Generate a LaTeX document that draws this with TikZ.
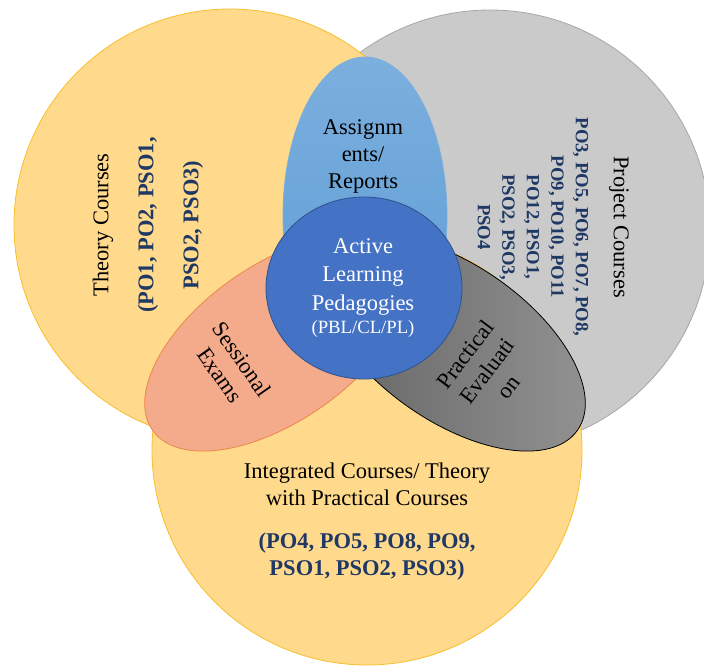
\documentclass[tikz,border=0pt]{standalone}
\usepackage{fontspec}
\setmainfont{Liberation Serif}
\usepackage{xcolor}
\usepackage{tikz}
\usetikzlibrary{shapes.geometric}
\definecolor{gold}{HTML}{FFD98C}
\definecolor{goldline}{HTML}{F8BF2C}
\definecolor{greyfill}{HTML}{CACACA}
\definecolor{greyline}{HTML}{A6A6A6}
\definecolor{skyblue}{HTML}{5B9BD5}
\definecolor{royal}{HTML}{4472C4}
\definecolor{royalline}{HTML}{2F528F}
\definecolor{salmon}{HTML}{F4AB8C}
\definecolor{salmonline}{HTML}{EE8649}
\definecolor{navy}{HTML}{1F3864}
\newcommand{\pocode}[1]{\textbf{\textcolor{navy}{#1}}}
\tikzset{
  setcirc/.style={circle,draw=goldline,fill=gold,line width=0.8pt,inner sep=0pt},
  petal/.style={ellipse,inner sep=0pt,line width=0.8pt},
  lbl/.style={align=center,inner sep=0pt,font=\fontsize{22.5}{27}\selectfont},
}
\begin{document}
\begin{tikzpicture}[x=1pt,y=-1pt]
  \useasboundingbox (0,0) rectangle (704,669);
  \node[setcirc,draw=greyline,fill=greyfill,minimum size=440pt] (project) at (490,230) {};
  \node[setcirc,minimum size=432pt] (theory) at (230,225) {};
  \node[setcirc,minimum size=430pt] (integ) at (367,450) {};
  \node[petal,draw=skyblue!80!white,top color=skyblue!80!white,bottom color=skyblue,
    minimum width=164pt,minimum height=318pt] (assign) at (365,216) {};
  \node[petal,draw=salmonline,fill=salmon,minimum width=304pt,minimum height=156pt,rotate=35] (sessional) at (277,343) {};
  \node[petal,draw=black,left color=black!62,right color=black!42,
    minimum width=304pt,minimum height=156pt,rotate=-35] (practical) at (453,343) {};
  \node[petal,draw=royalline,fill=royal,minimum width=196pt,minimum height=182pt] (alp) at (364,288) {};

  \node[lbl,rotate=90,font=\fontsize{22.5}{45}\selectfont] (theorytxt) at (148,225)
    {Theory Courses\\\pocode{(PO1, PO2, PSO1,}\\\pocode{PSO2, PSO3)}};
  \node[lbl,rotate=-90] (projtxt) at (619,227) {Project Courses};
  \node[lbl,rotate=-90,font=\fontsize{18.7}{24.5}\selectfont] (projpo) at (533,227)
    {\pocode{PO3, PO5, PO6, PO7, PO8,}\\\pocode{PO9, PO10, PO11}\\\pocode{PO12, PSO1,}\\\pocode{PSO2, PSO3,}\\\pocode{PSO4}};
  \node[lbl] (assigntxt) at (363,156) {Assignm\\ents/\\Reports};
  \node[lbl,text=white,font=\fontsize{22.5}{28.5}\selectfont] (alptxt) at (363,288)
    {Active\\Learning\\Pedagogies\\[-5pt]{\fontsize{18.7}{23}\selectfont(PBL/CL/PL)}};
  \node[lbl,rotate=-55] (sesstxt) at (231,367) {Sessional\\Exams};
  \node[lbl,rotate=53] (practxt) at (487,371) {Practical\\Evaluati\\on};
  \node[lbl] (integtxt) at (367,484) {Integrated Courses/ Theory\\with Practical Courses};
  \node[lbl] (integpo) at (367,557) {\pocode{(PO4, PO5, PO8, PO9,}\\\pocode{PSO1, PSO2, PSO3)}};
\end{tikzpicture}
\end{document}
